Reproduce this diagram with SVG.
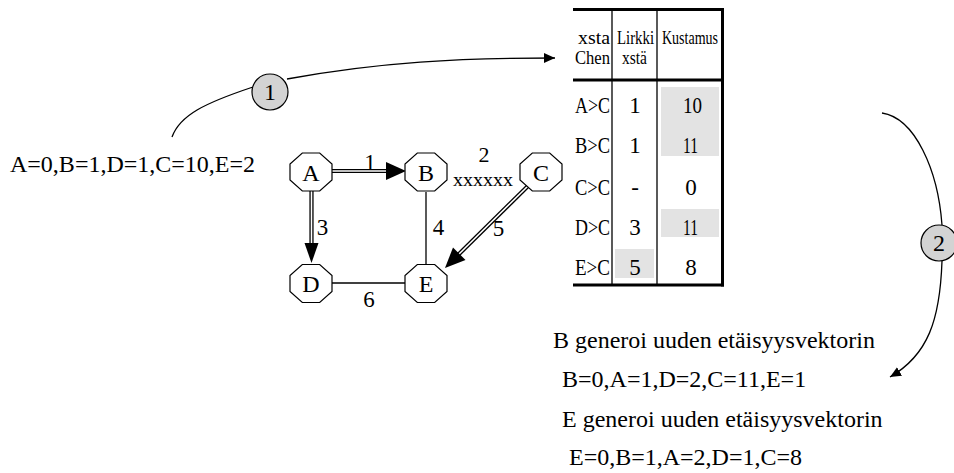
<svg xmlns="http://www.w3.org/2000/svg" width="954" height="473" viewBox="0 0 954 473">
<style>
text{font-family:"Liberation Serif","Times New Roman",serif;fill:#000}
.t{font-size:24px}
.g{font-size:23px}
.h{font-size:19px}
.c{font-size:23px;text-anchor:middle}
.n{font-size:24px;text-anchor:middle}
.oct{fill:#fff;stroke:#000;stroke-width:1.2}
.thin{stroke:#000;stroke-width:1.3;fill:none}
.thick{stroke:#000;stroke-width:3;fill:none}
.dblo{stroke:#000;stroke-width:4.2;fill:none}
.dbli{stroke:#fff;stroke-width:1.6;fill:none}
.curve{stroke:#000;stroke-width:1.3;fill:none}
.step{fill:#d3d3d3;stroke:#000;stroke-width:1.2}
.hl{fill:#e3e3e3}
</style>
<defs>
<polygon id="octagon" class="oct" points="-8.7,-19 8.7,-19 21,-8 21,8 8.7,19 -8.7,19 -21,8 -21,-8"/>
<marker id="arr" markerWidth="12" markerHeight="10" refX="11" refY="5" orient="auto" markerUnits="userSpaceOnUse">
<path d="M0,0 L11,5 L0,10 z" fill="#000"/>
</marker>
</defs>

<!-- table -->
<g id="table">
<rect class="hl" x="661" y="87" width="58" height="69"/>
<rect class="hl" x="661" y="209" width="58" height="28"/>
<rect class="hl" x="615" y="249" width="39" height="29"/>
<line class="thin" x1="612" y1="9" x2="612" y2="285"/>
<line class="thin" x1="657" y1="9" x2="657" y2="285"/>
<line class="thick" x1="573" y1="9.5" x2="724" y2="9.5"/>
<line class="thick" x1="573" y1="80" x2="724" y2="80"/>
<line class="thick" x1="573" y1="285" x2="724" y2="285"/>
<line class="thick" x1="722.5" y1="8" x2="722.5" y2="286.5"/>
<text class="h" x="578" y="44" textLength="32" lengthAdjust="spacingAndGlyphs">xsta</text>
<text class="h" x="575" y="64" textLength="35" lengthAdjust="spacingAndGlyphs">Chen</text>
<text class="h" x="617" y="44" textLength="37" lengthAdjust="spacingAndGlyphs">Lirkki</text>
<text class="h" x="622" y="64" textLength="25" lengthAdjust="spacingAndGlyphs">xstä</text>
<text class="h" x="662" y="44" textLength="56" lengthAdjust="spacingAndGlyphs">Kustamus</text>
<text class="g" x="575" y="113" textLength="35" lengthAdjust="spacingAndGlyphs">A&gt;C</text>
<text class="g" x="575" y="153" textLength="35" lengthAdjust="spacingAndGlyphs">B&gt;C</text>
<text class="g" x="575" y="195" textLength="35" lengthAdjust="spacingAndGlyphs">C&gt;C</text>
<text class="g" x="575" y="235" textLength="35" lengthAdjust="spacingAndGlyphs">D&gt;C</text>
<text class="g" x="575" y="275" textLength="35" lengthAdjust="spacingAndGlyphs">E&gt;C</text>
<text class="g" x="635" y="113" text-anchor="middle">1</text>
<text class="g" x="635" y="153" text-anchor="middle">1</text>
<text class="g" x="635" y="195" text-anchor="middle">-</text>
<text class="g" x="635" y="235" text-anchor="middle">3</text>
<text class="g" x="635" y="275" text-anchor="middle">5</text>
<text class="g" x="683" y="113" textLength="19" lengthAdjust="spacingAndGlyphs">10</text>
<text class="g" x="683" y="153" textLength="15" lengthAdjust="spacingAndGlyphs">11</text>
<text class="g" x="691" y="195" text-anchor="middle">0</text>
<text class="g" x="683" y="235" textLength="15" lengthAdjust="spacingAndGlyphs">11</text>
<text class="g" x="691" y="275" text-anchor="middle">8</text>
</g>

<!-- connectors -->
<g id="connectors">
<!-- A -> B (double) -->
<line class="dblo" x1="332" y1="171" x2="389" y2="171"/>
<line class="dbli" x1="332" y1="171" x2="389" y2="171"/>
<polygon points="406,171 386,162 386,180" fill="#000"/>
<!-- A -> D (double) -->
<line class="dblo" x1="311.5" y1="190" x2="311.5" y2="246"/>
<line class="dbli" x1="311.5" y1="190" x2="311.5" y2="246"/>
<polygon points="311.5,263 304.5,243 318.5,243" fill="#000"/>
<!-- C -> E (double) -->
<line class="dblo" x1="528" y1="186" x2="458" y2="255"/>
<line class="dbli" x1="528" y1="186" x2="458" y2="255"/>
<polygon points="445,268 453,247.5 465.5,260" fill="#000"/>
<!-- B - E -->
<line class="thin" x1="426" y1="192" x2="426" y2="264"/>
<!-- D - E -->
<line class="thin" x1="332" y1="283" x2="405" y2="283"/>
<!-- edge labels -->
<text class="c" x="370" y="170">1</text>
<text x="484" y="162" style="font-size:22px;text-anchor:middle">2</text>
<text x="453" y="186" style="font-size:19px" textLength="60" lengthAdjust="spacingAndGlyphs">xxxxxx</text>
<text class="c" x="322.5" y="235">3</text>
<text class="c" x="438.5" y="235">4</text>
<text class="c" x="498.5" y="236">5</text>
<text class="c" x="369" y="307">6</text>
<!-- step curves -->
<path class="curve" d="M172,137 C180,115 205,103 253,87"/>
<path class="curve" d="M287,79 C380,62 460,58 555,58" marker-end="url(#arr)"/>
<path class="curve" d="M882,113 C915,118 938,170 942,225"/>
<path class="curve" d="M942,261 C940,320 928,355 890,377" marker-end="url(#arr)"/>
</g>

<!-- nodes -->
<g id="node-A"><use href="#octagon" x="311" y="172"/><text class="n" x="311" y="180.5">A</text></g>
<g id="node-B"><use href="#octagon" x="426" y="172"/><text class="n" x="426" y="180.5">B</text></g>
<g id="node-C"><use href="#octagon" x="541" y="172"/><text class="n" x="541" y="180.5">C</text></g>
<g id="node-D"><use href="#octagon" x="311" y="283.5"/><text class="n" x="311" y="292">D</text></g>
<g id="node-E"><use href="#octagon" x="426" y="283.5"/><text class="n" x="426" y="292">E</text></g>

<g id="step-1"><circle class="step" cx="270" cy="92" r="18"/><text class="n" x="270" y="100">1</text></g>
<g id="step-2"><circle class="step" cx="939" cy="243" r="18"/><text class="n" x="939" y="251">2</text></g>

<g id="texts">
<text class="t" x="10" y="172">A=0,B=1,D=1,C=10,E=2</text>
<text class="t" x="553" y="348">B generoi uuden etäisyysvektorin</text>
<text class="t" x="562" y="387">B=0,A=1,D=2,C=11,E=1</text>
<text class="t" x="562" y="427">E generoi uuden etäisyysvektorin</text>
<text class="t" x="569" y="465">E=0,B=1,A=2,D=1,C=8</text>
</g>
</svg>
